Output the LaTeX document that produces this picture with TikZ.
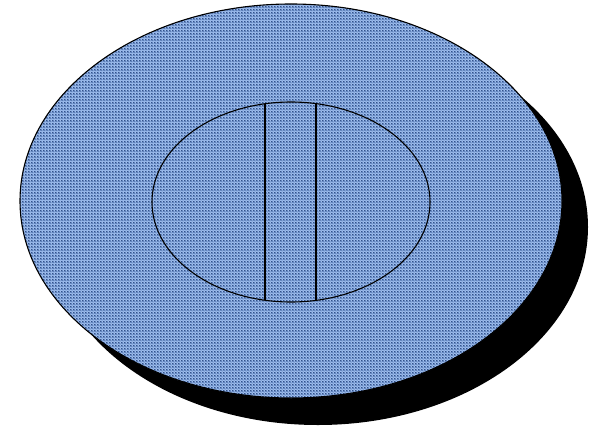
\documentclass[tikz,border=0pt]{standalone}
\usepackage{tikz}
\usetikzlibrary{patterns}
\definecolor{clothblue}{rgb}{0.40,0.54,0.77}
\definecolor{threadblue}{rgb}{0.17,0.27,0.48}
\definecolor{threadlight}{rgb}{0.62,0.75,0.94}

\begin{document}
\begin{tikzpicture}[x=1pt,y=-1pt,
   cloth/.style={fill=clothblue},
   weave/.style={pattern=crosshatch dots,pattern color=threadblue},
   rim/.style={draw=black,line width=1.1pt}]
  \useasboundingbox (0,0) rectangle (596,428);
  % shadow
  \fill[black] (318,227) ellipse [x radius=270,y radius=198];
  % outer disc
  \fill[cloth] (291,201) ellipse [x radius=271,y radius=197];
  \fill[pattern=grid,pattern color=threadlight] (291,201) ellipse [x radius=271,y radius=197];
  \fill[weave] (291,201) ellipse [x radius=271,y radius=197];
  \draw[rim] (291,201) ellipse [x radius=271,y radius=197];
  % inner ring
  \draw[rim] (291,202) ellipse [x radius=139,y radius=100];
  \begin{scope}
    \clip (291,202) ellipse [x radius=139,y radius=100];
    \draw[rim] (265,90) -- (265,320);
    \draw[rim] (316,90) -- (316,320);
  \end{scope}
\end{tikzpicture}
\end{document}
